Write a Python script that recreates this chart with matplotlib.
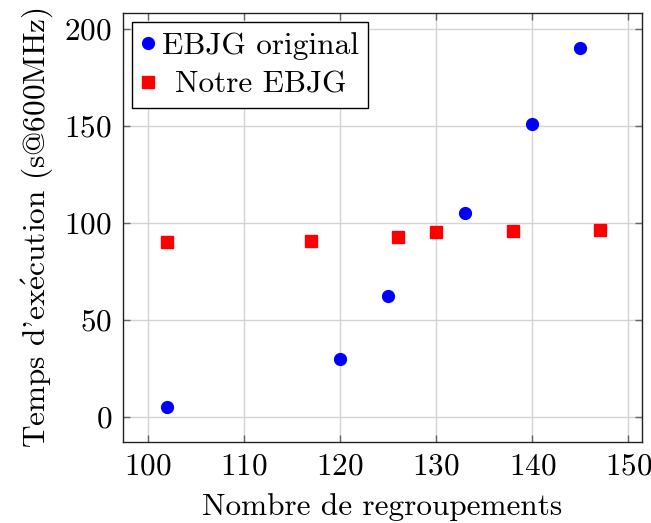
import matplotlib
matplotlib.use("Agg")
import matplotlib.pyplot as plt

# data
x_orig = [102, 120, 125, 133, 140, 145]
y_orig = [5, 29.5, 62, 105, 151, 190]
x_notre = [102, 117, 126, 130, 138, 147]
y_notre = [90, 90.5, 92.5, 95, 95.5, 96]
xticks = [100, 110, 120, 130, 140, 150]
yticks = [0, 50, 100, 150, 200]

plt.rcParams['font.family'] = ['cmr10', 'DejaVu Serif']
plt.rcParams['mathtext.fontset'] = 'cm'
plt.rcParams['axes.formatter.use_mathtext'] = True

fs = 22.5
fig = plt.figure(figsize=(6.51, 5.23), dpi=100)
ax = fig.add_axes([0.189, 0.155, 0.797, 0.820])

ax.plot(x_orig, y_orig, 'o', color='blue', markersize=8.5, label='EBJG original', zorder=3)
ax.plot(x_notre, y_notre, 's', color='red', markersize=8, label='Notre EBJG', zorder=3)

ax.set_xlim(97.4, 151.4)
ax.set_ylim(-13, 208)
ax.set_xticks(xticks)
ax.set_yticks(yticks)
ax.grid(True, color='#d4d4d4', linewidth=1.0)
ax.set_axisbelow(True)
ax.tick_params(direction='in', top=True, right=True, length=5, width=1,
               color='#666666', labelsize=fs, pad=8)
for s in ax.spines.values():
    s.set_linewidth(1.0)
    s.set_color('#222222')

ax.set_xlabel('Nombre de regroupements', fontsize=fs, labelpad=9)
ax.set_ylabel(r"Temps d'ex$\acute{\mathrm{e}}$cution (s@600MHz)", fontsize=fs, labelpad=7)

leg = ax.legend(loc='upper left', fontsize=fs, frameon=True, fancybox=False,
                framealpha=1, edgecolor='black', borderpad=0.3, handlelength=0.4,
                handletextpad=0.25, labelspacing=0.36, borderaxespad=0.3)
leg.get_frame().set_linewidth(1.0)

# center the shorter legend entry like pgfplots does
fig.canvas.draw()
r = fig.canvas.get_renderer()
texts = leg.get_texts()
w = [t.get_window_extent(r).width for t in texts]
wmax = max(w)
for t, wi in zip(texts, w):
    t.set_x((wmax - wi) / 2)

fig.savefig('out.png', dpi=100)
